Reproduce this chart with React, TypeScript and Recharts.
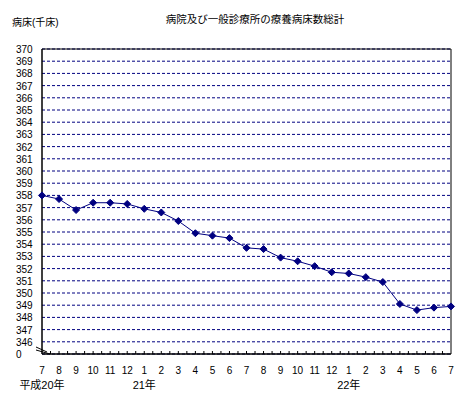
import React from "react";
import { LineChart, Line, XAxis, YAxis, CartesianGrid, ReferenceArea } from "recharts";

const months = ["7","8","9","10","11","12","1","2","3","4","5","6","7","8","9","10","11","12","1","2","3","4","5","6","7"];
const values = [358.0,357.7,356.8,357.4,357.4,357.3,356.9,356.6,355.9,354.9,354.7,354.5,353.7,353.6,352.9,352.6,352.2,351.7,351.6,351.3,350.9,349.1,348.6,348.8,348.9];
const yearLabels: Record<number, string> = { 0: "平成20年", 6: "21年", 18: "22年" };
const yTicks = [345,346,347,348,349,350,351,352,353,354,355,356,357,358,359,360,361,362,363,364,365,366,367,368,369,370];
const title = "病院及び一般診療所の療養病床数総計";
const yTitle = "病床(千床)";

const data = values.map((v, i) => ({ idx: i, month: months[i], value: v }));
const xTicks = Array.from({ length: 49 }, (_, i) => i / 2);

const NAVY = "#000080";
const FONT = "'Liberation Sans', 'Noto Sans CJK JP', sans-serif";

const XTick = (props: any) => {
  const { x, y, payload } = props;
  const v = payload.value as number;
  const isInt = Math.abs(v - Math.round(v)) < 1e-6;
  const i = Math.round(v);
  return (
    <g>
      {v > 0 && v < 24 && <line x1={x} y1={y} x2={x} y2={y - 3} stroke="#000" />}
      {isInt && (
        <text x={x} y={y + 20} textAnchor="middle" fontSize={10} fontFamily={FONT} fill="#000">
          {months[i]}
        </text>
      )}
      {isInt && yearLabels[i] && (
        <text x={x} y={y + 35} textAnchor="middle" fontSize={11} fontFamily={FONT} fill="#000">
          {yearLabels[i]}
        </text>
      )}
    </g>
  );
};

const YTick = (props: any) => {
  const { x, y, payload } = props;
  const v = payload.value as number;
  const isBottom = v === yTicks[0];
  return (
    <g>
      <text x={x - 26} y={y + 4} textAnchor="start" fontSize={10} fontFamily={FONT} fill="#000">
        {isBottom ? "0" : String(v)}
      </text>
      {isBottom && (
        <g stroke="#000" strokeWidth={1}>
          <line x1={x - 6} y1={y - 7} x2={x + 5} y2={y - 2} />
          <line x1={x - 6} y1={y - 4} x2={x + 8} y2={y} />
        </g>
      )}
    </g>
  );
};

const Diamond = (props: any) => {
  const { cx, cy } = props;
  if (cx == null || cy == null) return null;
  const r = 3.5;
  return (
    <polygon
      points={`${cx},${cy - r} ${cx + r},${cy} ${cx},${cy + r} ${cx - r},${cy}`}
      fill={NAVY}
      stroke={NAVY}
    />
  );
};

export default function App() {
  return (
    <div style={{ position: "absolute", left: 0, top: 0, width: 463, height: 394, background: "#fff" }}>
      <div style={{ position: "absolute", left: 12, top: 14, fontSize: 10, fontFamily: FONT, whiteSpace: "nowrap" }}>
        {yTitle}
      </div>
      <div style={{ position: "absolute", left: 0, width: 510, top: 11, textAlign: "center", fontSize: 10.5, fontFamily: FONT, whiteSpace: "nowrap" }}>
        {title}
      </div>
      <LineChart width={463} height={394} data={data} margin={{ top: 49, right: 12, bottom: 0, left: 0 }}>
        <CartesianGrid vertical={false} stroke={NAVY} strokeDasharray="3 2" />
        <XAxis
          dataKey="idx"
          type="number"
          domain={[0, 24]}
          ticks={xTicks}
          interval={0}
          height={40}
          tickSize={0}
          tickMargin={0}
          tickLine={false}
          axisLine={{ stroke: "#000" }}
          tick={<XTick />}
        />
        <YAxis
          type="number"
          domain={[345, 370]}
          ticks={yTicks}
          interval={0}
          width={42}
          tickSize={0}
          tickMargin={0}
          tickLine={false}
          axisLine={{ stroke: "#000" }}
          tick={<YTick />}
        />
        <ReferenceArea x1={0} x2={24} y1={345} y2={370} fill="none" stroke="#000" ifOverflow="visible" />
        <Line
          dataKey="value"
          stroke={NAVY}
          strokeWidth={1}
          dot={<Diamond />}
          activeDot={false}
          isAnimationActive={false}
        />
      </LineChart>
    </div>
  );
}
